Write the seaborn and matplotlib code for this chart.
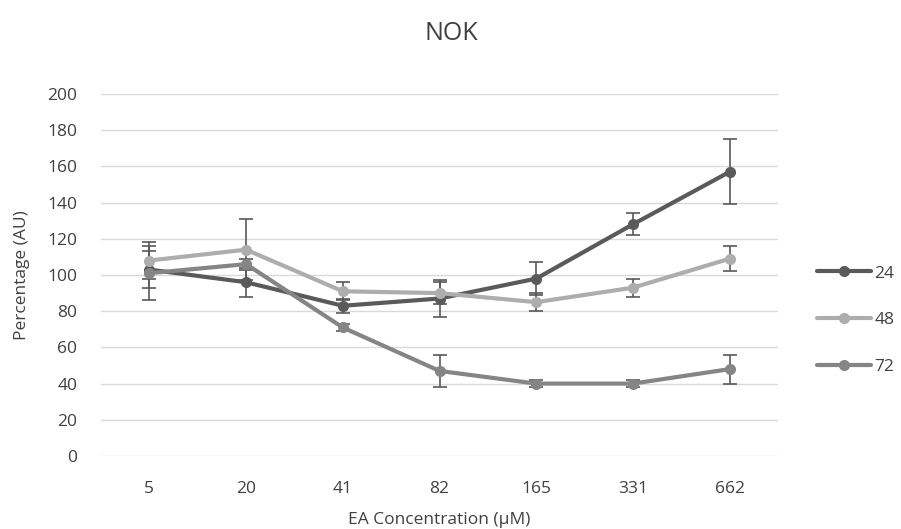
import seaborn as sns
import matplotlib.pyplot as plt
import pandas as pd
from matplotlib.lines import Line2D

# data
conc = ["5", "20", "41", "82", "165", "331", "662"]
h24 = [103, 96, 83, 87, 98, 128, 157]
h48 = [108, 114, 91, 90, 85, 93, 109]
h72 = [101, 106, 71, 47, 40, 40, 48]
err24 = [10, 8, 4, 10, 9, 6, 18]
err48 = [10, 17, 5, 6, 5, 5, 7]
err72 = [15, 3, 2, 9, 2, 2, 8]
series = ["24", "48", "72"]
colors = {"24": "#5a5a5a", "48": "#adadad", "72": "#858585"}

rows = []
for name, vals, errs in zip(series, [h24, h48, h72], [err24, err48, err72]):
    for i, c in enumerate(conc):
        rows.append({"pos": i, "conc": c, "val": vals[i], "err": errs[i], "series": name})
df = pd.DataFrame(rows)

sns.set_style("white")
plt.rcParams['font.family'] = ['Open Sans', 'DejaVu Sans']
txt = "#404040"
fs = 12.5

fig = plt.figure(figsize=(9.01, 5.29), dpi=100)
ax = fig.add_axes([101 / 901, 1 - 456 / 529, 677 / 901, 362 / 529])

for name in series:
    d = df[df["series"] == name]
    ax.errorbar(d["pos"], d["val"], yerr=d["err"], fmt="none",
                ecolor="#595959", elinewidth=1.2, capsize=5, capthick=1.2, zorder=2)

sns.lineplot(data=df, x="pos", y="val", hue="series", palette=colors,
             marker="o", markersize=8, markeredgewidth=0, linewidth=3,
             legend=False, ax=ax, zorder=3)

ax.set_xlim(-0.5, 6.5)
ax.set_ylim(0, 200)
ax.set_yticks(range(0, 201, 20))
ax.set_xticks(range(len(conc)))
ax.set_xticklabels(conc)
ax.yaxis.grid(True, color="#d9d9d9", linewidth=1)
ax.set_axisbelow(True)
for s in ax.spines.values():
    s.set_visible(False)
ax.tick_params(axis="x", length=0, labelsize=fs, colors=txt, pad=18)
ax.tick_params(axis="y", length=0, labelsize=fs, colors=txt, pad=17)
ax.set_xlabel("EA Concentration (µM)", fontsize=fs, color=txt, labelpad=6)
ax.set_ylabel("Percentage (AU)", fontsize=fs, color=txt, labelpad=10)
ax.yaxis.set_label_coords(-79 / 677, 0.5)
ax.xaxis.set_label_coords(0.5, -64 / 362)
ax.xaxis.label.set_va("center")
ax.yaxis.label.set_va("center")
fig.text(451 / 901, 1 - 33 / 529, "NOK", fontsize=18, color=txt, ha="center", va="center")

handles = [Line2D([0], [0], color=colors[s], linewidth=3, marker="o", markersize=8,
                  markeredgewidth=0) for s in series]
leg = ax.legend(handles, series, loc="center left", bbox_to_anchor=(716 / 677, 136 / 362),
                frameon=False, handlelength=3.1, handletextpad=0.2, labelspacing=1.75,
                borderpad=0, borderaxespad=0, fontsize=fs)
for t in leg.get_texts():
    t.set_color(txt)

fig.savefig("out.png", dpi=100)
